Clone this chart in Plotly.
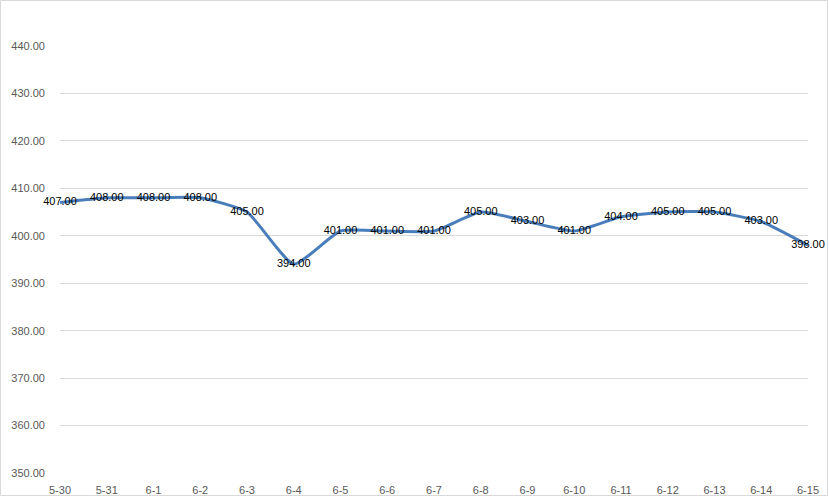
import plotly.graph_objects as go

dates = ["5-30", "5-31", "6-1", "6-2", "6-3", "6-4", "6-5", "6-6", "6-7", "6-8",
         "6-9", "6-10", "6-11", "6-12", "6-13", "6-14", "6-15"]
prices = [407, 408, 408, 408, 405, 394, 401, 401, 401, 405,
          403, 401, 404, 405, 405, 403, 398]
y_ticks = [350, 360, 370, 380, 390, 400, 410, 420, 430, 440]

W, H = 829, 497
L, R, T, B = 60, 21, 46, 24

fig = go.Figure()
fig.add_trace(go.Scatter(
    x=dates, y=prices, mode="lines+text",
    line=dict(color="#4A7EBB", width=3, shape="spline", smoothing=0.5),
    text=[f"{v:.2f}" for v in prices],
    textposition="middle center",
    textfont=dict(family="Liberation Sans, Arial, sans-serif", size=11, color="#000000"),
    cliponaxis=False,
    hoverinfo="skip",
))

pw = W - L - R
ph = H - T - B
fig.add_shape(type="rect", xref="paper", yref="paper",
              x0=-L / pw + 0.5 / pw, x1=1 + (R - 1.5) / pw,
              y0=-B / ph + 1.5 / ph, y1=1 + (T - 0.5) / ph,
              line=dict(color="#D9D9D9", width=1), layer="below")

fig.update_layout(
    width=W, height=H,
    margin=dict(l=L, r=R, t=T, b=B, autoexpand=False),
    paper_bgcolor="white", plot_bgcolor="white",
    showlegend=False,
    font=dict(family="Liberation Sans, Arial, sans-serif", size=11, color="#595959"),
    xaxis=dict(
        type="category", range=[0, len(dates) - 1], automargin=False,
        showgrid=False, showline=False, zeroline=False,
        ticks="", ticklabelstandoff=9,
        tickfont=dict(size=11, color="#595959"),
    ),
    yaxis=dict(
        range=[350, 440], tickvals=y_ticks, tickformat=".2f", automargin=False,
        showgrid=True, gridcolor="#D9D9D9", gridwidth=1,
        zeroline=False, showline=False, ticks="",
        ticklabelstandoff=14,
        tickfont=dict(size=11, color="#595959"),
    ),
)

fig.write_html(
    "out.html",
    config={"displayModeBar": False, "staticPlot": True},
    post_script="document.body.style.margin='0';document.body.style.overflow='hidden';",
)
